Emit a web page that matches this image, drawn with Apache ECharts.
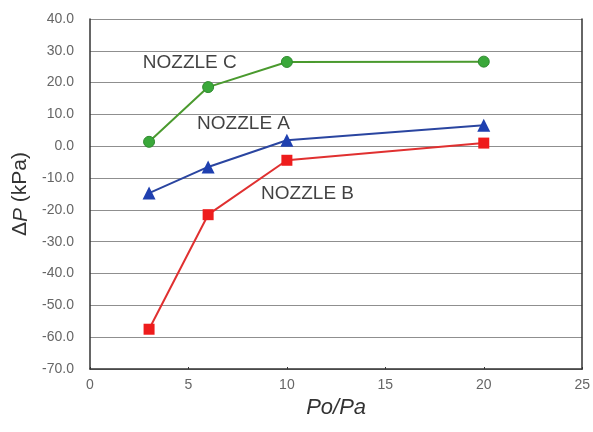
<!DOCTYPE html>
<html><head><meta charset="utf-8">
<script src="https://cdn.jsdelivr.net/npm/echarts@6/dist/echarts.min.js"></script>
<style>html,body{margin:0;padding:0;background:#fff}#c{width:593px;height:432px}</style>
</head><body><div id="c"></div>
<script>
const xVals = [3, 6, 10, 20];
const nozzleA = [-14.7, -6.5, 1.9, 6.6];
const nozzleB = [-57.5, -21.5, -4.4, 1.0];
const nozzleC = [1.4, 18.6, 26.5, 26.6];
const labelNames = ['NOZZLE C', 'NOZZLE A', 'NOZZLE B'];
const labelX = [5.07, 7.8, 11.05];
const labelY = [26.4, 7.2, -14.8];

const pair = arr => xVals.map((x, i) => [x, arr[i]]);
const font = '"Liberation Sans", Arial, sans-serif';
const chart = echarts.init(document.getElementById('c'));
chart.setOption({
  animation: false,
  backgroundColor: '#fff',
  grid: {left: 90, right: 10, top: 19, bottom: 63},
  xAxis: {
    type: 'value', min: 0, max: 25, interval: 5,
    name: 'Po/Pa', nameLocation: 'middle', nameGap: 24,
    nameTextStyle: {fontFamily: font, fontSize: 22, fontStyle: 'italic', color: '#333', verticalAlign: 'top'},
    axisLine: {onZero: false, lineStyle: {color: '#333', width: 1.5}},
    axisTick: {show: true, inside: true, length: 2, lineStyle: {color: '#333'}},
    axisLabel: {fontFamily: font, fontSize: 14, color: '#666', margin: 9},
    splitLine: {show: false}
  },
  yAxis: [{
    type: 'value', min: -70, max: 40, interval: 10,
    name: '{a|Δ}{i|P}{a| (kPa)}', nameLocation: 'middle', nameGap: 58, nameRotate: 90,
    nameTextStyle: {rich: {
      a: {fontFamily: font, fontSize: 21, color: '#333'},
      i: {fontFamily: font, fontSize: 21, fontStyle: 'italic', color: '#333'}
    }},
    axisLine: {show: true, onZero: false, lineStyle: {color: '#333', width: 1.5}},
    axisTick: {show: false},
    axisLabel: {fontFamily: font, fontSize: 14, color: '#666', margin: 16, formatter: v => v.toFixed(1)},
    splitLine: {show: true, lineStyle: {color: '#8f8f8f', width: 1}}
  }, {
    type: 'value', min: -70, max: 40, interval: 10, position: 'right',
    axisLine: {show: true, onZero: false, lineStyle: {color: '#333', width: 1.5}},
    axisTick: {show: false}, axisLabel: {show: false}, splitLine: {show: false}
  }],
  series: [
    {type: 'line', name: 'NOZZLE C', data: pair(nozzleC), symbol: 'circle', symbolSize: 11,
     lineStyle: {color: '#4a9a2e', width: 2}, itemStyle: {color: '#3aa83a', borderColor: '#2f8a2f', borderWidth: 1}},
    {type: 'line', name: 'NOZZLE A', data: pair(nozzleA), symbol: 'triangle', symbolSize: 13,
     lineStyle: {color: '#2a45a0', width: 2}, itemStyle: {color: '#1f40b0'}},
    {type: 'line', name: 'NOZZLE B', data: pair(nozzleB), symbol: 'rect', symbolSize: 11,
     lineStyle: {color: '#e03030', width: 2}, itemStyle: {color: '#ee1c1c'}},
    {type: 'scatter', data: labelNames.map((n, i) => [labelX[i], labelY[i], n]),
     symbolSize: 0, itemStyle: {color: 'rgba(0,0,0,0)'}, silent: true,
     label: {show: true, position: 'inside', formatter: p => p.data[2],
       fontFamily: font, fontSize: 19, color: '#111', textBorderWidth: 0}}
  ]
});
</script></body></html>
